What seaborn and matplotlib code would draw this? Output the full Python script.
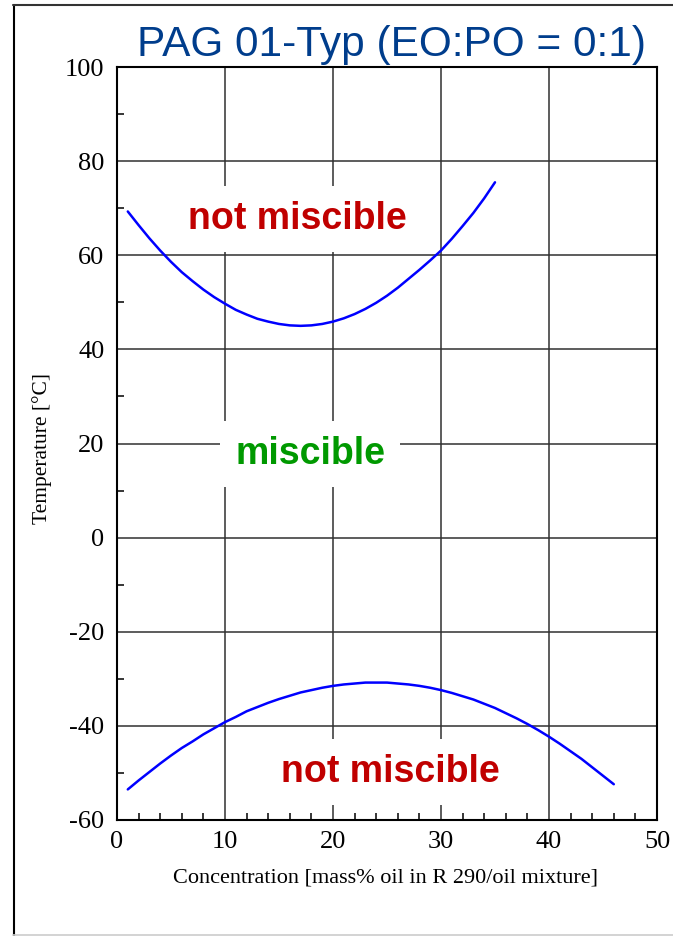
import matplotlib
matplotlib.use("Agg")
import matplotlib.pyplot as plt
from matplotlib.lines import Line2D
from matplotlib.ticker import MultipleLocator
import seaborn as sns
import pandas as pd

# Upper miscibility boundary (concentration in mass %, temperature in °C)
upper_conc = [1, 2, 3, 4, 5, 6, 7, 8, 9, 10, 11, 12, 13, 14, 15, 16, 17, 18,
              19, 20, 21, 22, 23, 24, 25, 26, 27, 28, 29, 30, 31, 32, 33, 34, 35]
upper_temp = [69.3, 66.4, 63.6, 61.0, 58.6, 56.4, 54.5, 52.7, 51.1, 49.7,
              48.4, 47.4, 46.5, 45.9, 45.4, 45.1, 45.0, 45.1, 45.4, 45.9,
              46.6, 47.5, 48.6, 49.9, 51.4, 53.1, 55.0, 56.9, 58.9, 61.0,
              63.5, 66.2, 69.0, 72.1, 75.5]

# Lower miscibility boundary
lower_conc = [1, 2, 3, 4, 5, 6, 7, 8, 9, 10, 11, 12, 13, 14, 15, 16, 17, 18,
              19, 20, 21, 22, 23, 24, 25, 26, 27, 28, 29, 30, 31, 32, 33, 34,
              35, 36, 37, 38, 39, 40, 41, 42, 43, 44, 45, 46]
lower_temp = [-53.5, -51.6, -49.8, -48.0, -46.3, -44.7, -43.3, -41.8, -40.5, -39.2,
              -38.1, -36.9, -36.0, -35.1, -34.3, -33.6, -32.9, -32.4, -31.9, -31.5,
              -31.2, -31.0, -30.8, -30.8, -30.8, -31.0, -31.2, -31.5, -31.9, -32.4,
              -33.0, -33.7, -34.4, -35.3, -36.2, -37.3, -38.4, -39.6, -40.9, -42.3,
              -43.8, -45.4, -47.0, -48.8, -50.6, -52.4]

x_ticks = [0, 10, 20, 30, 40, 50]
y_ticks = [-60, -40, -20, 0, 20, 40, 60, 80, 100]

title_text = "PAG 01-Typ (EO:PO = 0:1)"
x_label = "Concentration [mass% oil in R 290/oil mixture]"
y_label = "Temperature [°C]"

sns.set_theme(style="white")
plt.rcParams["font.family"] = ["Liberation Serif", "DejaVu Serif"]
plt.rcParams["axes.unicode_minus"] = False

W, H = 673, 936
fig = plt.figure(figsize=(W / 100, H / 100), dpi=100)
ax = fig.add_axes([117 / W, 1 - 820 / H, 540 / W, 753 / H])

df_up = pd.DataFrame({"conc": upper_conc, "temp": upper_temp})
df_lo = pd.DataFrame({"conc": lower_conc, "temp": lower_temp})
for d in (df_up, df_lo):
    sns.lineplot(data=d, x="conc", y="temp", ax=ax, color="#0000FF",
                 linewidth=1.8, estimator=None, sort=False, zorder=5)

ax.set_xlim(0, 50)
ax.set_ylim(-60, 100)
ax.set_xticks(x_ticks)
ax.set_yticks(y_ticks)
ax.xaxis.set_minor_locator(MultipleLocator(2))
ax.yaxis.set_minor_locator(MultipleLocator(10))

ax.set_axisbelow(True)
ax.grid(True, which="major", color="#303030", linewidth=1.1)
ax.grid(False, which="minor")

ax.tick_params(which="major", direction="in", length=0, labelsize=19,
               colors="black", bottom=True, left=True, top=False, right=False)
ax.tick_params(axis="x", which="major", pad=8)
ax.tick_params(axis="y", which="major", pad=9)
ax.tick_params(which="minor", direction="in", length=5, width=1.1,
               color="black", bottom=True, left=True, top=False, right=False)

for s in ax.spines.values():
    s.set_visible(True)
    s.set_color("black")
    s.set_linewidth(1.5)

ax.set_xlabel(x_label, fontsize=16, color="black")
ax.set_ylabel(y_label, fontsize=15.5, color="black")
ax.xaxis.set_label_coords(0.498, -0.064)
ax.yaxis.set_label_coords(-0.139, 0.493)
ax.yaxis.label.set_verticalalignment("center")

box = dict(boxstyle="square,pad=0.4", facecolor="white", edgecolor="none")
sans_bold = dict(family=["Liberation Sans", "DejaVu Sans"], fontweight="bold",
                 fontsize=27, ha="center", va="center", zorder=4)
ax.text(16.7, 67.6, "not miscible", color="#C00000", bbox=box, **sans_bold)
ax.text(17.9, 17.7, "miscible", color="#009900", bbox=box, **sans_bold)
ax.text(25.3, -49.8, "not miscible", color="#C00000", bbox=box, **sans_bold)

fig.text(391 / W, 1 - 56 / H, title_text, ha="center", va="baseline",
         fontsize=30.5, color="#003D8C",
         family=["Liberation Sans", "DejaVu Sans"])

# outer frame of the sheet
fig.add_artist(Line2D([13.5 / W, 13.5 / W], [0, 1 - 5 / H],
                      transform=fig.transFigure, color="black", linewidth=1.5))
fig.add_artist(Line2D([13 / W, 1], [1 - 5 / H, 1 - 5 / H],
                      transform=fig.transFigure, color="#333333", linewidth=1.5))
fig.add_artist(Line2D([13 / W, 1], [1 - 935 / H, 1 - 935 / H],
                      transform=fig.transFigure, color="#cccccc", linewidth=1.2))

fig.savefig("out.png", dpi=100)
